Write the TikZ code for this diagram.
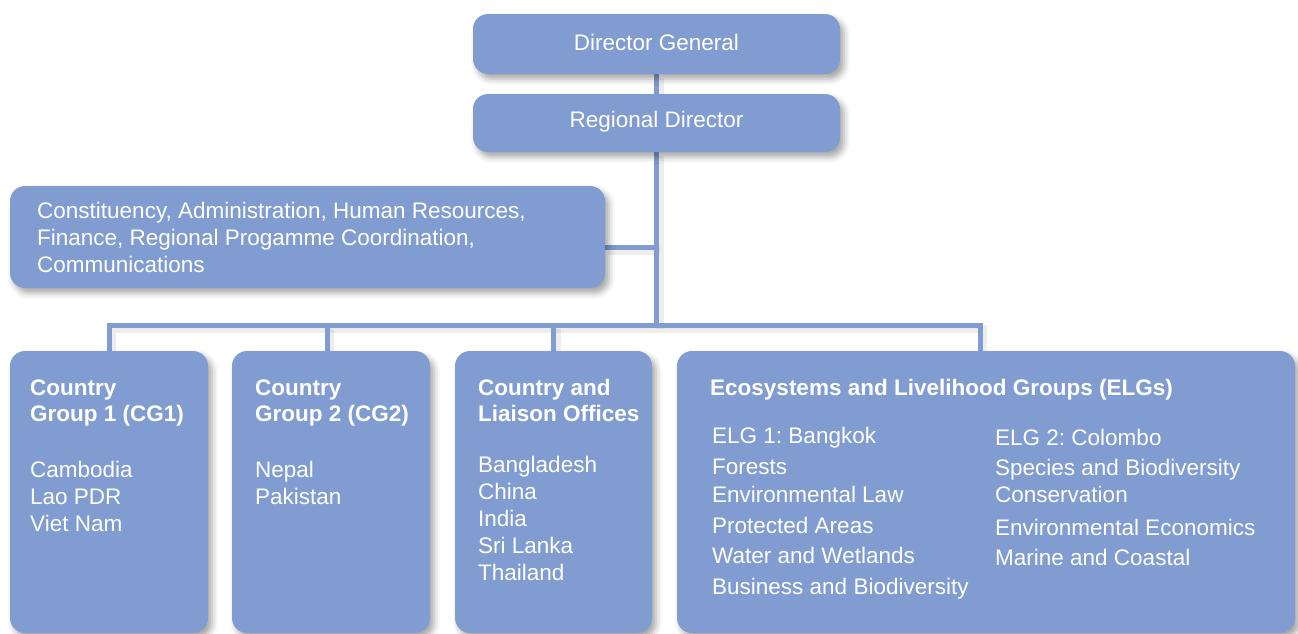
\documentclass[tikz,border=0pt]{standalone}
\usepackage{fontspec}
\setmainfont{Liberation Sans}
\frenchspacing
\usetikzlibrary{shadows.blur,backgrounds}
\definecolor{boxc}{RGB}{128,156,208}
\tikzset{
  orgbox/.style={rectangle, rounded corners=15pt, fill=boxc, draw=none, inner sep=0pt,
    blur shadow={shadow xshift=4pt, shadow yshift=-5pt, shadow blur radius=6pt, shadow opacity=35}},
  conn/.style={draw=boxc, line width=5pt, line join=miter},
  connshadow/.style={draw=black, opacity=0.07, line width=8pt, line join=miter},
  txt/.style={text=white, font=\fontsize{22.5}{27}\selectfont, inner sep=0pt, anchor=base west},
  btxt/.style={txt, font=\fontsize{22.5}{27}\selectfont\bfseries},
  ctxt/.style={text=white, font=\fontsize{22.5}{27}\selectfont},
}
\begin{document}
\begin{tikzpicture}[x=1pt,y=1pt]
\useasboundingbox (0,0) rectangle (1298,-633);
% boxes
\node[orgbox, minimum width=367pt, minimum height=60pt] (dg) at (656.5,-44) {};
\node[ctxt] (dgt) at (656.5,-42) {Director General};
\node[orgbox, minimum width=367pt, minimum height=58pt] (rd) at (656.5,-123) {};
\node[ctxt] (rdt) at (656.5,-122) {Regional Director};
\node[orgbox, minimum width=595pt, minimum height=102pt] (const) at (307.5,-237) {};
\node[orgbox, minimum width=198pt, minimum height=282pt] (cg1) at (109,-492) {};
\node[orgbox, minimum width=198pt, minimum height=282pt] (cg2) at (331,-492) {};
\node[orgbox, minimum width=197pt, minimum height=282pt] (clo) at (553.5,-492) {};
\node[orgbox, minimum width=618pt, minimum height=282pt] (elg) at (986,-492) {};
% connectors
\coordinate (bus) at (656.5,-325);
\coordinate (d2) at ([xshift=-4pt]cg2.north);
\coordinate (d4) at ([xshift=-6pt]elg.north);
\begin{pgfonlayer}{background}
\begin{scope}[transform canvas={shift={(3pt,-4pt)}}]
\draw[connshadow] (dg.south) -- (rd.north);
\draw[connshadow] (rd.south) -- (rd.south |- bus);
\draw[connshadow] ([yshift=-10pt]const.east) -- ([yshift=-10pt]const.east -| rd.south);
\draw[connshadow] (cg1.north) -- (cg1.north |- bus) -- (d4 |- bus) -- (d4);
\draw[connshadow] (d2) -- (d2 |- bus);
\draw[connshadow] (clo.north) -- (clo.north |- bus);
\end{scope}
\draw[conn] (dg.south) -- (rd.north);
\draw[conn] (rd.south) -- ([yshift=-2.5pt]rd.south |- bus);
\draw[conn] ([yshift=-10pt]const.east) -- ([yshift=-10pt]const.east -| rd.south);
\draw[conn] (cg1.north) -- (cg1.north |- bus) -- (d4 |- bus) -- (d4);
\draw[conn] (d2) -- (d2 |- bus);
\draw[conn] (clo.north) -- (clo.north |- bus);
\end{pgfonlayer}
% texts
\node[txt] (c1) at (37,-218) {Constituency, Administration, Human Resources,};
\node[txt] (c2) at (37,-245) {Finance, Regional Progamme Coordination,};
\node[txt] (c3) at (37,-272) {Communications};
% CG1
\node[btxt] (g1a) at (30,-395) {Country};
\node[btxt] (g1b) at (30,-421) {Group 1 (CG1)};
\foreach \t [count=\i] in {Cambodia, Lao PDR, Viet Nam}
  \node[txt] (g1l\i) at (30,-477-27*\i+27) {\t};
% CG2
\node[btxt] (g2a) at (255,-395) {Country};
\node[btxt] (g2b) at (255,-421) {Group 2 (CG2)};
\foreach \t [count=\i] in {Nepal, Pakistan}
  \node[txt] (g2l\i) at (255,-477-27*\i+27) {\t};
% CLO
\node[btxt] (loa) at (478,-395) {Country and};
\node[btxt] (lob) at (478,-421) {Liaison Offices};
\foreach \t [count=\i] in {Bangladesh, China, India, Sri Lanka, Thailand}
  \node[txt] (lol\i) at (478,-472-27*\i+27) {\t};
% ELG
\node[btxt] (et) at (710,-395) {Ecosystems and Livelihood Groups (ELGs)};
\node[txt] (e11) at (712,-443) {ELG 1: Bangkok};
\node[txt] (e12) at (712,-474) {Forests};
\node[txt] (e13) at (712,-502) {Environmental Law};
\node[txt] (e14) at (712,-533) {Protected Areas};
\node[txt] (e15) at (712,-563) {Water and Wetlands};
\node[txt] (e16) at (712,-594) {Business and Biodiversity};
\node[txt] (e21) at (995,-445) {ELG 2: Colombo};
\node[txt] (e22) at (995,-475) {Species and Biodiversity};
\node[txt] (e23) at (995,-502) {Conservation};
\node[txt] (e24) at (995,-535) {Environmental Economics};
\node[txt] (e25) at (995,-565) {Marine and Coastal};
\end{tikzpicture}
\end{document}
